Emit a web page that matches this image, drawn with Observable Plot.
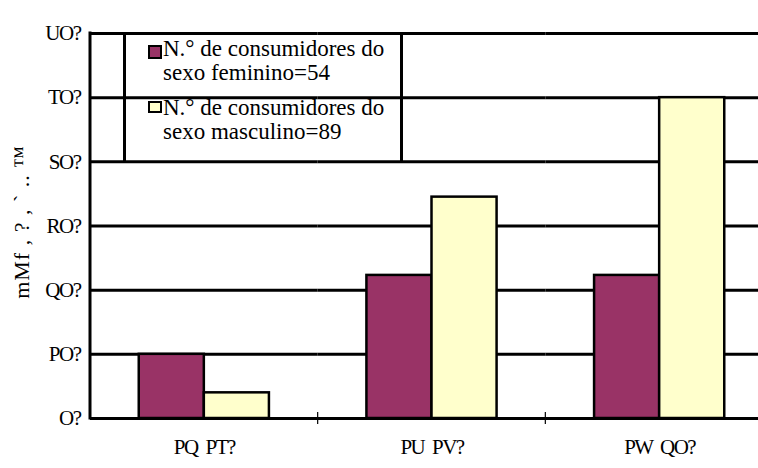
<!DOCTYPE html>
<html><head><meta charset="utf-8">
<script src="https://cdn.jsdelivr.net/npm/d3@7"></script>
<script src="https://cdn.jsdelivr.net/npm/@observablehq/plot@0.6"></script>
<style>
body{margin:0;background:#fff;}
#chart{position:relative;width:758px;height:468px;overflow:hidden;font-family:"Liberation Serif",serif;}
#chart svg{position:absolute;left:0;top:0;}
.lg{position:absolute;font-family:"Liberation Serif",serif;font-size:23px;line-height:24px;color:#000;white-space:nowrap;}
.sw{position:absolute;border:2px solid #000;box-sizing:border-box;}
.box{position:absolute;border-left:3px solid #000;border-right:3px solid #000;box-sizing:border-box;}
.ylab{position:absolute;font-family:"Liberation Serif",serif;font-size:22px;white-space:nowrap;transform:translate(-50%,-50%) rotate(-90deg);letter-spacing:1px;}
</style></head><body><div id="chart"></div>
<script>
const categories = ["PQ PT?", "PU PV?", "PW QO?"];
const seriesNames = ["N.° de consumidores do sexo feminino=54", "N.° de consumidores do sexo masculino=89"];
const seriesLines = [["N.° de consumidores do", "sexo feminino=54"], ["N.° de consumidores do", "sexo masculino=89"]];
const femaleValues = [10, 22.3, 22.3];
const maleValues = [4, 34.5, 50];
const yTicks = [0, 10, 20, 30, 40, 50, 60];
const yTickLabels = ["O?", "PO?", "QO?", "RO?", "SO?", "TO?", "UO?"];
const yAxisLabel = "mMf , ? , ` .. ™";
const colors = ["#993366", "#FFFFCC"];

const data = categories.flatMap((c, i) => [
  {category: c, series: seriesNames[0], value: femaleValues[i]},
  {category: c, series: seriesNames[1], value: maleValues[i]}
]);

const fig = Plot.plot({
  width: 758, height: 468,
  marginLeft: 90, marginRight: -15, marginTop: 33, marginBottom: 50,
  style: {fontFamily: "Liberation Serif, serif", fontSize: "21px", background: "#fff", color: "#000"},
  fx: {domain: categories, padding: 0, round: false, axis: "bottom", tickSize: 0, tickPadding: 21, label: null},
  x: {domain: seriesNames, paddingInner: 0, paddingOuter: 0.749, round: false, axis: null},
  y: {domain: [0, 60], ticks: yTicks, tickFormat: d => yTickLabels[yTicks.indexOf(d)], tickSize: 0, tickPadding: 10, label: null},
  color: {domain: seriesNames, range: colors},
  marks: [
    Plot.ruleY(yTicks, {stroke: "#000", strokeWidth: 3}),
    Plot.barY(data, {fx: "category", x: "series", y: "value", fill: "series", stroke: "#000", strokeWidth: 2.5})
  ]
});
const chart = document.getElementById("chart");
chart.appendChild(fig);

// axis line and category separators from Plot's scales
const ys = fig.scale("y");
const y0 = ys.apply(0), yTop = ys.apply(60);
let fxs = null;
try { fxs = fig.scale("fx"); } catch (e) {}
const xLeft = fxs ? fxs.range[0] : 90;
const svg = d3.select(fig);
svg.append("line").attr("x1", xLeft).attr("x2", xLeft).attr("y1", yTop - 1.5).attr("y2", y0 + 1.5)
  .attr("stroke", "#000").attr("stroke-width", 3);
if (fxs) {
  categories.slice(1).forEach(c => {
    const x = fxs.apply(c);
    svg.append("line").attr("x1", x).attr("x2", x).attr("y1", y0 - 6).attr("y2", y0 + 6)
      .attr("stroke", "#000").attr("stroke-width", 1.2);
  });
}
svg.selectAll("text").style("letter-spacing", "-1.5px").style("word-spacing", "4px");

// legend (transparent box over the grid)
const box = document.createElement("div");
box.className = "box";
Object.assign(box.style, {left: "123px", top: (yTop - 1.5) + "px", width: "280px", height: (ys.apply(40) - yTop + 1.5) + "px"});
chart.appendChild(box);
const legendTops = [37, 96];
const swatchTops = [45, 101];
seriesLines.forEach((lines, i) => {
  const sw = document.createElement("div");
  sw.className = "sw";
  Object.assign(sw.style, {left: "148px", top: swatchTops[i] + "px", width: "14px", height: (i === 0 ? 14 : 12) + "px", background: colors[i]});
  chart.appendChild(sw);
  const t = document.createElement("div");
  t.className = "lg";
  t.style.left = "163px";
  t.style.top = legendTops[i] + "px";
  t.innerHTML = lines.join("<br>");
  chart.appendChild(t);
});
const yl = document.createElement("div");
yl.className = "ylab";
yl.style.left = "22px";
yl.style.top = "222px";
yl.textContent = yAxisLabel;
chart.appendChild(yl);
</script></body></html>
